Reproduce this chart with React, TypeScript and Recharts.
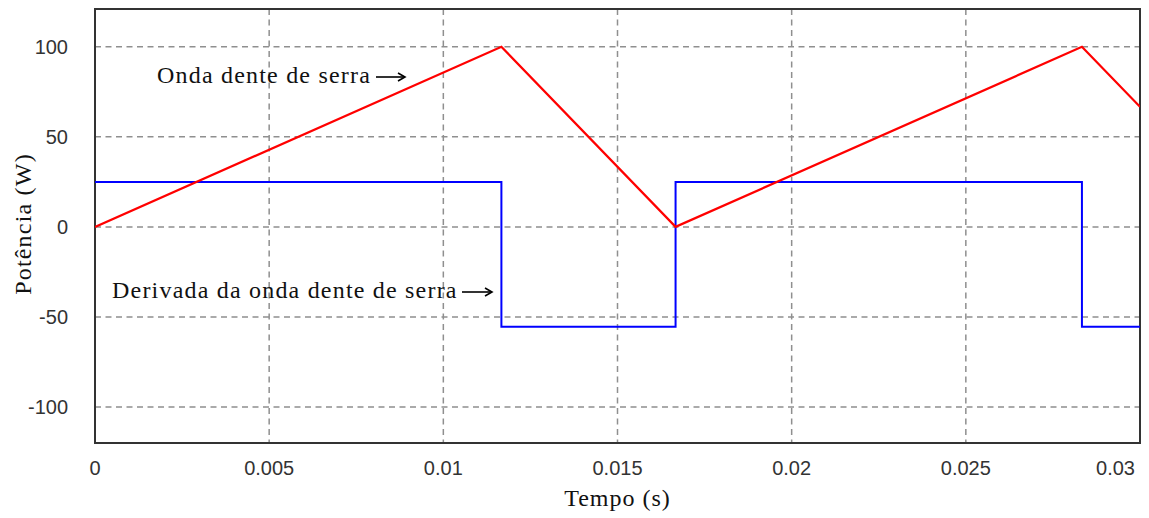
import { LineChart, Line, XAxis, YAxis, CartesianGrid, ReferenceArea, Label } from "recharts";

// sawtooth (60 Hz) and its derivative
const sawTime = [0, 0.011667, 0.016667, 0.028333, 0.03];
const sawPower = [0, 100, 0, 100, 66.7];
const derivTime = [0, 0.011667, 0.016667, 0.028333, 0.03];
const derivPower = [25, -55.5, 25, -55.5, -55.5];

const xTicks = [0, 0.005, 0.01, 0.015, 0.02, 0.025, 0.03];
const yTicks = [-100, -50, 0, 50, 100];
const xDomain = [0, 0.03];
const yDomain = [-120, 121];

const sawData = sawTime.map((t, i) => ({ t, p: sawPower[i] }));
const derivData = derivTime.map((t, i) => ({ t, p: derivPower[i] }));

const SANS = '"Liberation Sans", Arial, sans-serif';
const SERIF = '"Liberation Serif", "Times New Roman", serif';

const XTick = ({ x, y, payload }: any) => {
  const last = payload.value >= xDomain[1];
  return (
    <text x={x} y={y} dy={32} textAnchor={last ? "end" : "middle"} fontFamily={SANS} fontSize={20} fill="#333">
      {String(payload.value)}
    </text>
  );
};

const YTick = ({ x, y, payload }: any) => (
  <text x={x - 27} y={y} dy={7} textAnchor="end" fontFamily={SANS} fontSize={20} fill="#333">
    {String(payload.value)}
  </text>
);

const XTitle = ({ viewBox }: any) => (
  <text x={viewBox.x + viewBox.width / 2} y={viewBox.y + 63} textAnchor="middle" fontFamily={SERIF} fontSize={24} letterSpacing={1} fill="#111">
    Tempo (s)
  </text>
);

const YTitle = ({ viewBox }: any) => {
  const cx = viewBox.x + 31;
  const cy = viewBox.y + viewBox.height / 2 - 2;
  return (
    <text x={cx} y={cy} transform={`rotate(-90 ${cx} ${cy})`} textAnchor="middle" fontFamily={SERIF} fontSize={24} letterSpacing={1.2} fill="#111">
      Potência (W)
    </text>
  );
};

const Arrow = ({ x1, x2, y }: { x1: number; x2: number; y: number }) => (
  <g stroke="#000" strokeWidth={1.6} fill="none">
    <line x1={x1} y1={y} x2={x2} y2={y} />
    <path d={`M${x2 - 7} ${y - 4} L${x2} ${y} L${x2 - 7} ${y + 4}`} />
  </g>
);

export default function App() {
  return (
    <div style={{ position: "absolute", left: 0, top: 0, width: 1149, height: 518, background: "#fff" }}>
      <LineChart width={1149} height={518} margin={{ top: 9, right: 9, bottom: 0, left: 0 }}>
        <CartesianGrid stroke="#8f8f8f" strokeWidth={1.5} strokeDasharray="6 4.5" />
        <XAxis
          type="number"
          dataKey="t"
          domain={xDomain}
          ticks={xTicks}
          height={75}
          axisLine={false}
          tickLine={false}
          tickSize={0}
          tickMargin={0}
          tick={<XTick />}
          allowDataOverflow
        >
          <Label content={<XTitle />} />
        </XAxis>
        <YAxis
          type="number"
          domain={yDomain}
          ticks={yTicks}
          width={95}
          axisLine={false}
          tickLine={false}
          tickSize={0}
          tickMargin={0}
          tick={<YTick />}
          allowDataOverflow
        >
          <Label content={<YTitle />} />
        </YAxis>
        <Line data={derivData} dataKey="p" type="stepAfter" stroke="#0000ff" strokeWidth={2} dot={false} isAnimationActive={false} />
        <Line data={sawData} dataKey="p" type="linear" stroke="#ff0000" strokeWidth={2.3} dot={false} isAnimationActive={false} />
        <ReferenceArea x1={xDomain[0]} x2={xDomain[1]} y1={yDomain[0]} y2={yDomain[1]} fill="none" fillOpacity={0} stroke="#333" strokeWidth={2} />
      </LineChart>
      <svg width={1149} height={518} style={{ position: "absolute", left: 0, top: 0, pointerEvents: "none" }}>
        <text x={157} y={83} fontFamily={SERIF} fontSize={24} letterSpacing={1.2} fill="#111">
          Onda dente de serra
        </text>
        <Arrow x1={376} x2={405} y={77} />
        <text x={112} y={298} fontFamily={SERIF} fontSize={24} letterSpacing={1.2} fill="#111">
          Derivada da onda dente de serra
        </text>
        <Arrow x1={462} x2={492} y={292} />
      </svg>
    </div>
  );
}
